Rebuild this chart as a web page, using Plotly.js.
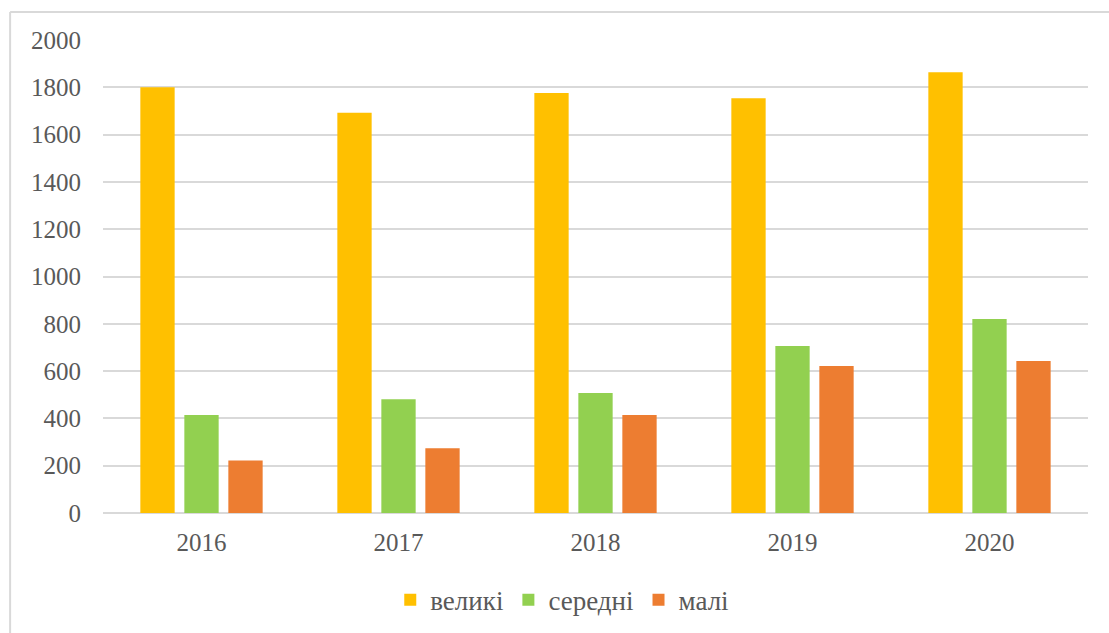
<!DOCTYPE html>
<html>
<head>
<meta charset="utf-8">
<script src="https://cdn.plot.ly/plotly-3.0.1.min.js"></script>
<style>html,body{margin:0;padding:0;background:#fff;}#chart{width:1109px;height:633px;}</style>
</head>
<body>
<div id="chart"></div>
<script>
const years = ["2016", "2017", "2018", "2019", "2020"];
const seriesNames = ["великі", "середні", "малі"];
const velyki = [1800, 1692, 1776, 1754, 1864];
const seredni = [414, 481, 507, 706, 820];
const mali = [222, 274, 414, 622, 643];
const colors = ["#FFC000", "#92D050", "#ED7D31"];
const yTicks = [0, 200, 400, 600, 800, 1000, 1200, 1400, 1600, 1800, 2000];

const font = {family: "Liberation Serif", size: 25, color: "#595959"};
const values = [velyki, seredni, mali];
const traces = values.map((v, i) => ({
  type: "bar",
  x: years,
  y: v,
  name: seriesNames[i],
  marker: {color: colors[i]},
  hoverinfo: "x+y+name"
}));

const layout = {
  width: 1109, height: 633,
  margin: {l: 103, r: 21, t: 40, b: 120},
  paper_bgcolor: "#fff", plot_bgcolor: "#fff",
  font: font,
  barmode: "group",
  bargap: 0.33,
  bargroupgap: 0.22,
  xaxis: {
    type: "category",
    showgrid: false, zeroline: false, showline: false,
    ticks: "", tickfont: font,
    ticklabelstandoff: 12
  },
  yaxis: {
    range: [0, 2000],
    tickvals: yTicks,
    ticktext: yTicks.map(String),
    showgrid: true, gridcolor: "#d9d9d9", gridwidth: 2,
    zeroline: true, zerolinecolor: "#d9d9d9", zerolinewidth: 2,
    showline: false, ticks: "", tickfont: font,
    ticklabelstandoff: 21
  },
  legend: {
    orientation: "h", xref: "container", x: 0.507, xanchor: "center",
    yref: "container", y: 0.052, yanchor: "middle",
    font: {family: "Liberation Serif", size: 27, color: "#595959"},
    itemwidth: 30, traceorder: "normal"
  },
  shapes: [
    {type: "line", xref: "paper", yref: "paper", x0: -0.0943, x1: 1.03, y0: 1.0592, y1: 1.0592,
     line: {color: "#d9d9d9", width: 2}},
    {type: "line", xref: "paper", yref: "paper", x0: -0.0943, x1: -0.0943, y0: 1.0592, y1: -0.3,
     line: {color: "#d9d9d9", width: 2}}
  ],
  showlegend: true
};

Plotly.newPlot("chart", traces, layout, {displayModeBar: false, staticPlot: true});
</script>
</body>
</html>
